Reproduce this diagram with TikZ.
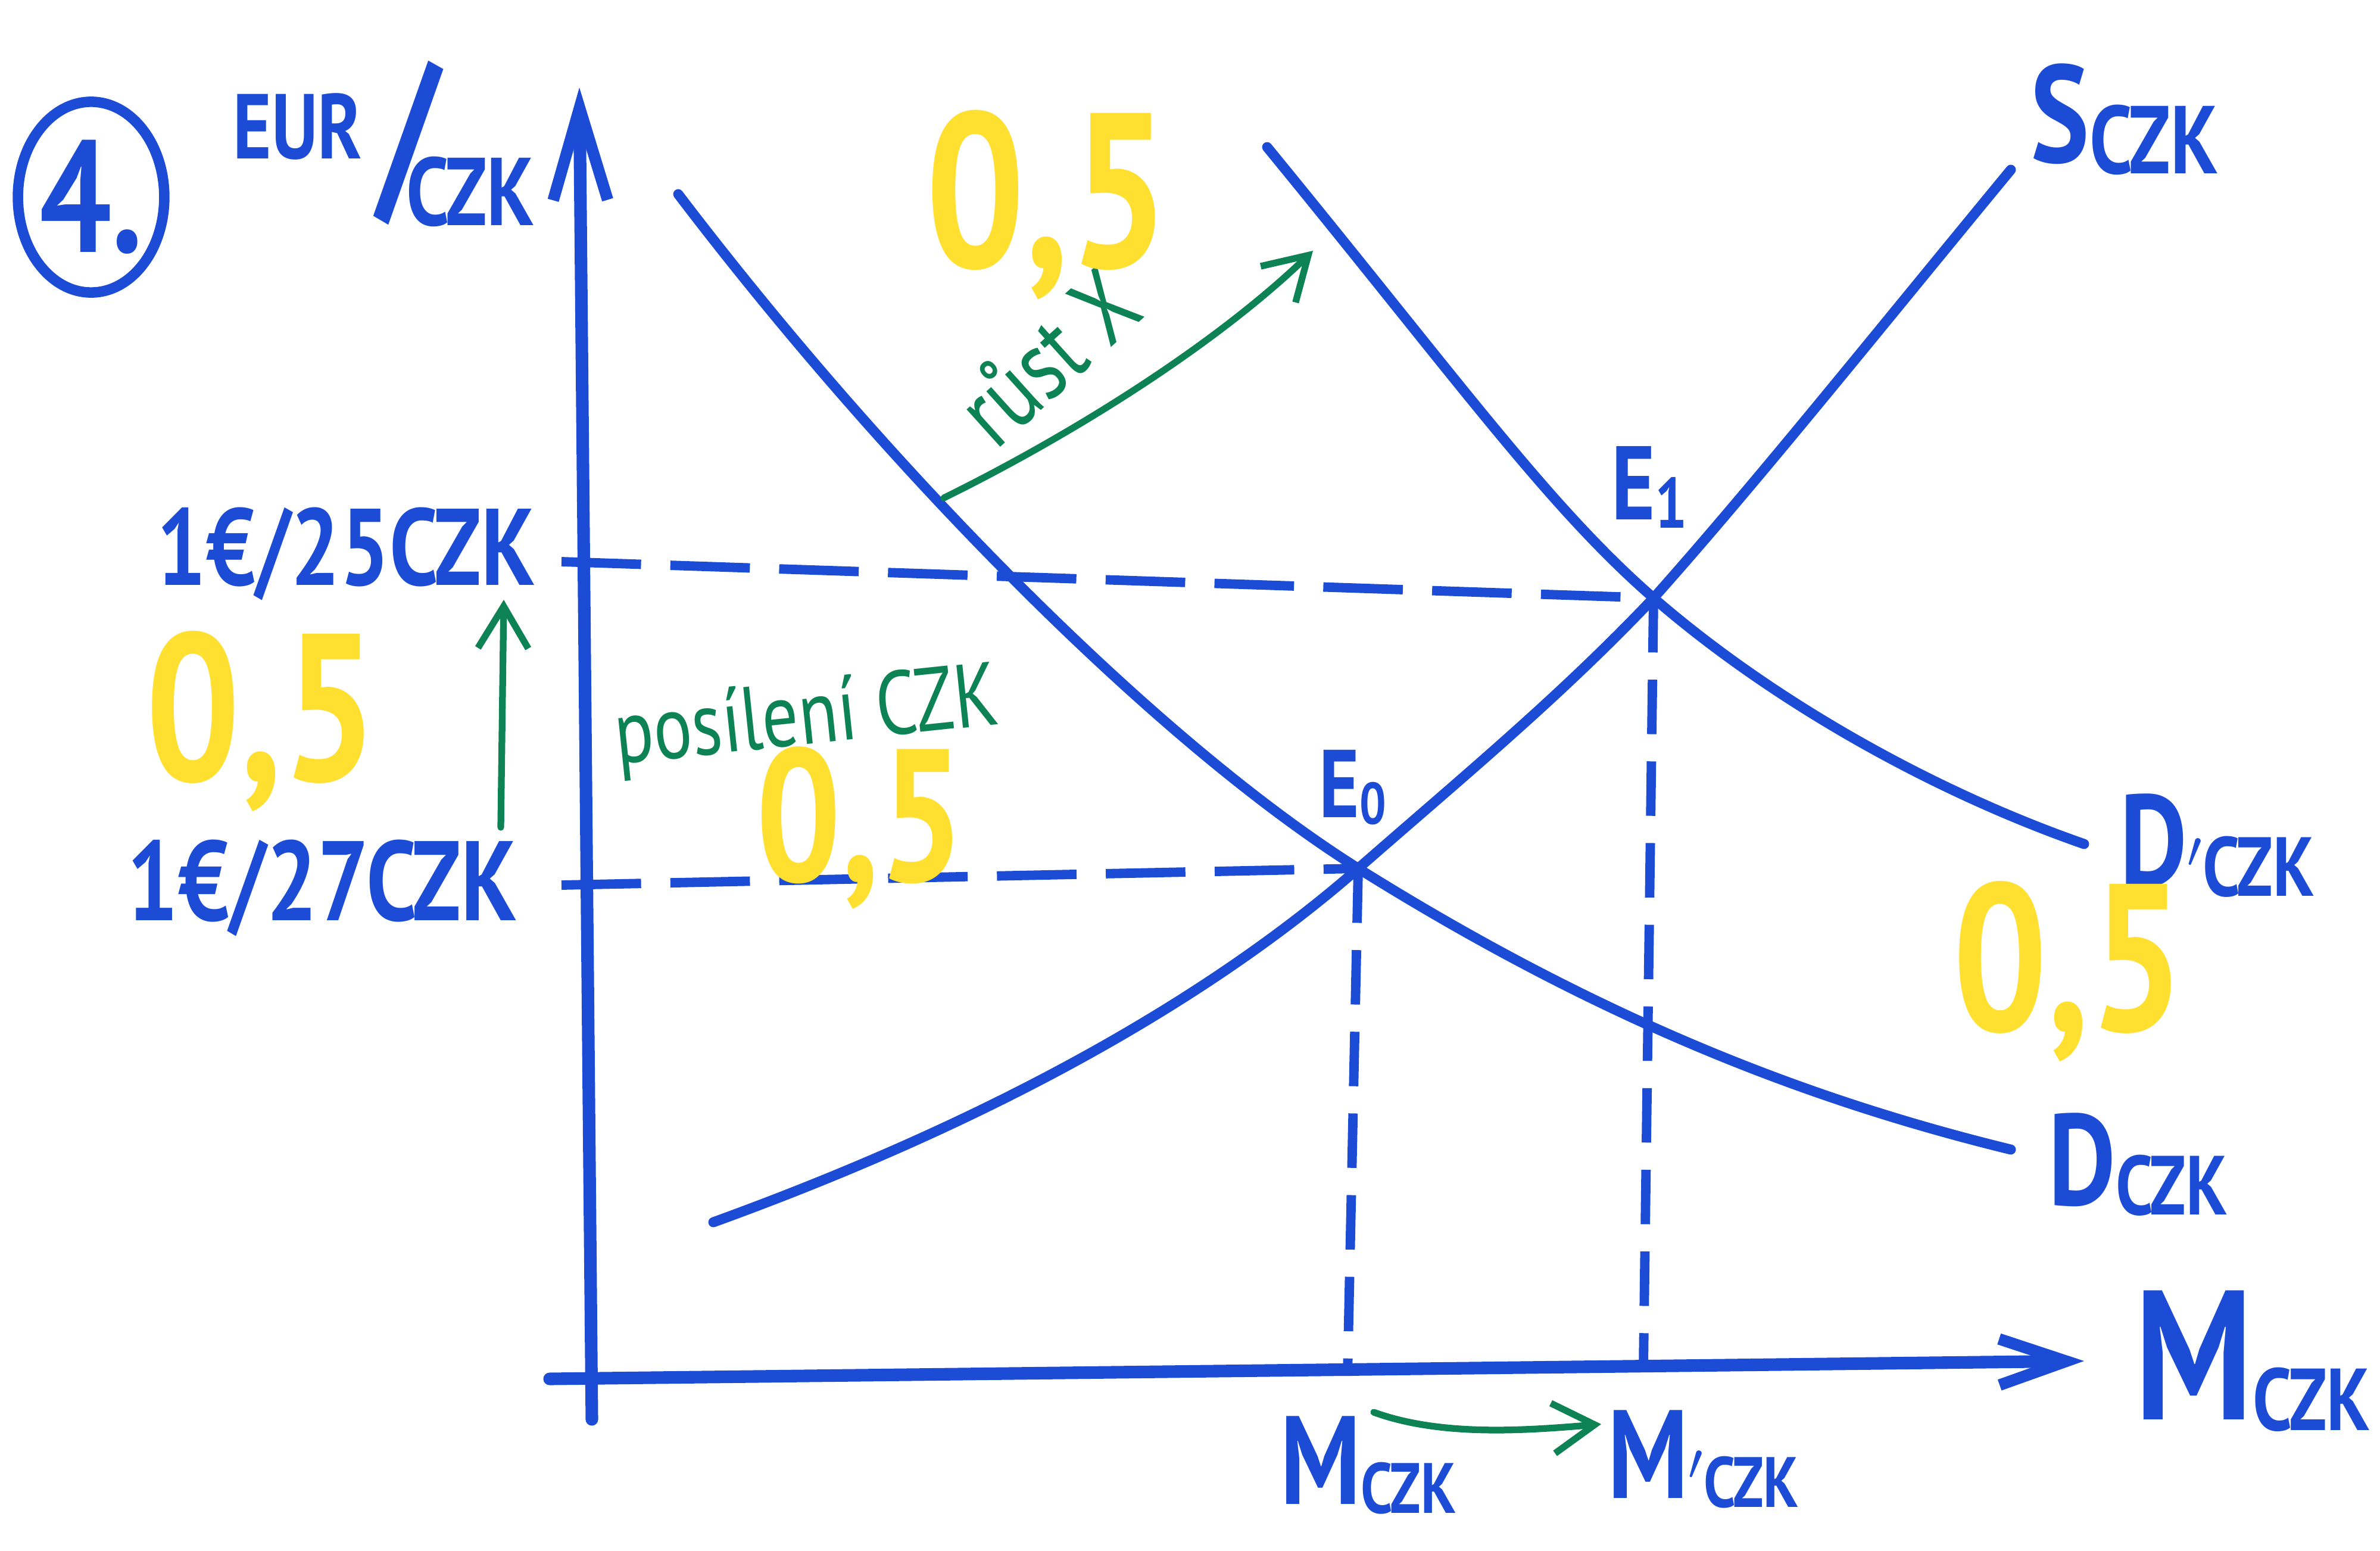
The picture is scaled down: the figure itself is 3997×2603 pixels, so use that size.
\documentclass[tikz,border=0pt]{standalone}
\usepackage{fontspec}
\newfontfamily\hand{PT Sans}[FakeStretch=0.8]
\usetikzlibrary{arrows.meta,shapes.geometric}
\definecolor{ink}{RGB}{28,76,214}
\definecolor{grn}{RGB}{12,130,85}
\definecolor{ylw}{RGB}{255,224,48}
\newcommand\fs[1]{\fontsize{#1}{#1}\selectfont}
\newcommand\lab[4]{{\fs{#3}#1}{\fs{#4}\raisebox{-0.12em}{#2}}}
\begin{document}
\begin{tikzpicture}[x=0.01cm,y=-0.01cm,
  curve/.style={draw=ink,line width=4.8pt,line cap=round,line join=round},
  axisln/.style={draw=ink,line width=6pt,line cap=round},
  dashln/.style={draw=ink,line width=4.5pt,dash pattern=on 38pt off 14pt},
  vdashln/.style={draw=ink,line width=4.5pt,dash pattern=on 26pt off 13pt},
  gline/.style={draw=grn,line width=3.2pt,line cap=round,-{Straight Barb[length=20pt,width=24pt,line width=3.2pt]}},
  btxt/.style={text=ink,font=\hand\bfseries,inner sep=0pt},
  gtxt/.style={text=grn,font=\hand,inner sep=0pt},
  ytxt/.style={text=ylw,font=\hand\bfseries,inner sep=0pt}]
\useasboundingbox (0,0) rectangle (3997,2603);
\fill[white] (0,0) rectangle (3997,2603);

% coordinates
\coordinate (ybot) at (994,2383);
\coordinate (ytip) at (973,147);
\coordinate (xbeg) at (923,2315);
\coordinate (xtip) at (3500,2285);
\coordinate (E0) at (2281,1458);
\coordinate (E1) at (2777,1004);
\coordinate (t25) at (943,943);
\coordinate (t27) at (943,1486);
\coordinate (m0) at (2263,2310);
\coordinate (m1) at (2760,2292);

% axes
\draw[axisln,-{Straight Barb[length=44pt,width=26pt,line width=5.5pt]}] (ybot) -- (ytip);
\draw[axisln,-{Straight Barb[length=32pt,width=22pt,line width=5.5pt]}] (xbeg) -- (xtip);

% dashed guides
\draw[dashln] (t25) -- (E1);
\draw[dashln] (t27) -- (E0);
\draw[vdashln] (E0) -- (m0);
\draw[vdashln] (E1) -- (m1);

% curves
\draw[curve] (1198,2052) .. controls (1700,1870) and (2050,1660) .. (E0)
  .. controls (2450,1310) and (2620,1170) .. (E1)
  .. controls (2950,810) and (3150,560) .. (3377,285);
\draw[curve] (1139,326) .. controls (1500,800) and (1950,1250) .. (E0)
  .. controls (2700,1720) and (3050,1850) .. (3377,1930);
\draw[curve] (2128,247) .. controls (2450,640) and (2600,850) .. (E1)
  .. controls (2980,1180) and (3250,1330) .. (3500,1417);

% circled number
\node[draw=ink,line width=5pt,ellipse,minimum width=2.44cm,minimum height=3.2cm,inner sep=0pt,text=ink,font=\hand\bfseries\fs{76}] (four) at (153,331) {4.};

% axis labels
\node[btxt,font=\hand\bfseries\fs{44}] (eur) at (500,212) {EUR};
\node[btxt,font=\hand\bfseries\fs{92}] (slash) at (686,240) {/};
\node[btxt,font=\hand\bfseries\fs{46}] (czk) at (790,322) {CZK};
\node[btxt,anchor=west] (mlab) at (3585,2285) {\lab{M}{CZK}{88}{42}};

% curve labels
\node[btxt,anchor=west] (slab) at (3410,200) {\lab{S}{CZK}{66}{46}};
\node[btxt,anchor=west] (dplab) at (3560,1420) {\lab{D$'$}{CZK}{62}{40}};
\node[btxt,anchor=west] (dlab) at (3440,1955) {\lab{D}{CZK}{62}{40}};
\node[btxt] (e1lab) at (2770,818) {\lab{E}{1}{50}{34}};
\node[btxt] (e0lab) at (2272,1322) {\lab{E}{0}{46}{28}};

% y ticks
\node[btxt,font=\hand\bfseries\fs{52}] (r25) at (581,930) {1€/25CZK};
\node[btxt,font=\hand\bfseries\fs{54}] (r27) at (541,1491) {1€/27CZK};

% x ticks
\node[btxt,anchor=west] (q0) at (2150,2460) {\lab{M}{CZK}{60}{34}};
\node[btxt,anchor=west] (q1) at (2700,2450) {\lab{M$'$}{CZK}{60}{34}};

% green annotations
\draw[gline] (2307,2371) .. controls (2420,2412) and (2560,2402) .. (2689,2391);
\coordinate (g2a) at (841,1389);
\coordinate (g2b) at (846,1007);
\draw[gline] (g2a) -- (g2b);
\coordinate (g1a) at (1585,836);
\coordinate (g1b) at (2205,421);
\draw[gline] (g1a) .. controls (1800,730) and (2040,580) .. (g1b);
\node[gtxt,font=\hand\fs{48},rotate=42] (rust) at (1758,598) {růst X};
\node[gtxt,font=\hand\fs{43},rotate=6] (posil) at (1355,1210) {posílení CZK};

% yellow scores
\node[ytxt,font=\hand\bfseries\fs{105}] (y1) at (1759,344) {0,5};
\node[ytxt,font=\hand\bfseries\fs{100}] (y2) at (439,1211) {0,5};
\node[ytxt,font=\hand\bfseries\fs{90}] (y3) at (1445,1390) {0,5};
\node[ytxt,font=\hand\bfseries\fs{100}] (y4) at (3474,1631) {0,5};
\end{tikzpicture}
\end{document}
